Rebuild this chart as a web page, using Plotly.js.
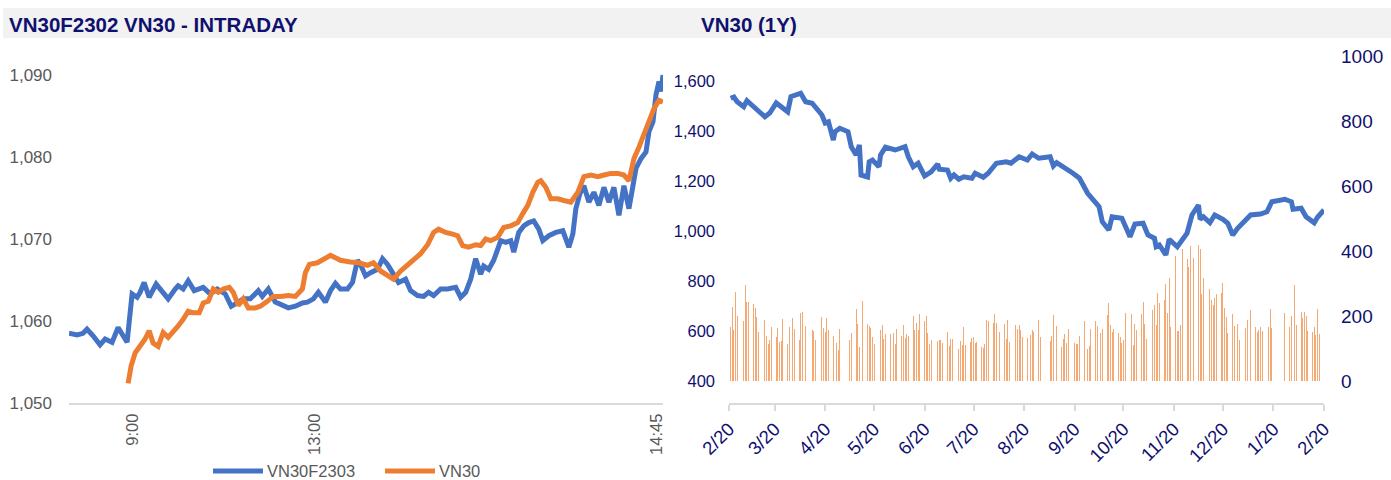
<!DOCTYPE html>
<html><head><meta charset="utf-8">
<script src="https://cdn.plot.ly/plotly-3.0.1.min.js"></script>
<style>html,body{margin:0;padding:0;background:#fff}#chart{width:1391px;height:480px}</style>
</head><body><div id="chart"></div>
<script>
// ---------- Intraday (left panel) ----------
const futName = 'VN30F2303';
const idxName = 'VN30';
const futObs = [0,8,14,18,24,31,36,43,49,54,58,60,63,68,71,75,80,87,93,99,106,109,114,119,125,134,141,148,156,162,168,174,181,189,193,199,206,213,219,226,233,238,244,249,256,261,266,271,278,283,288,291,296,301,308,313,318,323,329,336,341,348,354,359,364,371,378,386,391,396,401,406,411,414,419,424,428,431,436,441,444,449,454,459,464,469,473,479,486,493,499,503,506,510,514,519,524,529,534,539,544,549,554,559,563,566,571,576,579,583,586,589,591,593];
const futVal = [1058.5,1058.3,1058.5,1059.0,1058.2,1057.1,1057.8,1057.4,1059.2,1058.2,1057.4,1059.8,1063.3,1062.9,1063.5,1064.7,1062.9,1064.5,1063.5,1062.7,1063.9,1064.3,1063.9,1064.9,1063.7,1064.1,1063.3,1063.9,1063.3,1061.8,1062.2,1062.7,1062.7,1063.7,1063.0,1063.9,1062.3,1062.0,1061.6,1061.8,1062.2,1062.3,1062.7,1063.5,1062.3,1063.7,1064.6,1063.9,1063.9,1064.7,1067.4,1066.9,1065.5,1065.9,1066.3,1067.6,1066.9,1065.9,1064.7,1065.1,1063.7,1063.1,1063.0,1063.5,1063.1,1063.9,1063.9,1064.1,1062.9,1063.5,1065.1,1067.6,1065.7,1066.7,1066.3,1067.4,1068.6,1069.8,1069.6,1069.8,1068.4,1070.8,1071.6,1072.0,1072.2,1071.2,1069.8,1070.4,1070.8,1071.0,1069.0,1070.6,1073.7,1075.5,1076.5,1074.5,1075.7,1074.1,1076.3,1074.5,1076.3,1072.9,1076.5,1073.7,1076.5,1078.6,1079.8,1080.6,1083.1,1084.3,1087.6,1089.2,1088.0,1090.0];
const idxObs = [59,62,66,71,76,80,84,89,94,99,104,109,114,119,124,130,134,139,144,149,154,160,164,169,174,179,186,191,198,204,211,219,226,233,236,240,248,254,261,268,271,281,289,298,304,311,318,324,331,338,344,351,358,364,369,376,383,388,393,399,406,411,416,421,428,434,441,448,453,458,463,468,471,476,481,488,494,501,508,514,521,528,534,541,548,554,559,564,569,574,579,584,589,593];
const idxVal = [1052.4,1054.5,1056.1,1056.9,1057.8,1058.8,1057.3,1056.9,1058.6,1058.0,1058.6,1059.4,1060.2,1061.2,1061.0,1061.0,1062.2,1062.4,1063.9,1063.5,1063.9,1064.1,1063.5,1061.9,1062.7,1061.6,1061.6,1061.8,1062.4,1063.0,1063.0,1063.1,1063.0,1063.9,1065.9,1066.9,1067.1,1067.6,1068.0,1067.6,1067.4,1067.2,1067.1,1066.8,1067.1,1066.1,1065.5,1065.1,1066.1,1066.9,1067.4,1068.2,1069.3,1070.8,1071.2,1070.8,1070.6,1070.4,1069.2,1069.0,1069.3,1069.2,1070.0,1069.8,1070.2,1071.4,1071.6,1072.0,1073.1,1074.1,1075.7,1076.9,1077.1,1076.3,1074.9,1074.9,1074.7,1074.5,1075.7,1077.6,1077.8,1077.6,1077.8,1078.0,1078.0,1077.8,1077.1,1079.8,1081.2,1082.7,1084.3,1085.9,1086.9,1086.7];
const timeTickObs = [64,245,587];
const timeTickText = ['9:00','13:00','14:45'];
const intradayTicks = [1050,1060,1070,1080,1090];

// ---------- VN30 1Y (right panel) ----------
const vnDates = ['2022-02-21','2022-02-23','2022-02-25','2022-03-01','2022-03-03','2022-03-08','2022-03-14','2022-03-17','2022-03-21','2022-03-28','2022-03-30','2022-04-05','2022-04-08','2022-04-12','2022-04-18','2022-04-20','2022-04-22','2022-04-25','2022-04-26','2022-04-29','2022-05-04','2022-05-06','2022-05-09','2022-05-11','2022-05-12','2022-05-16','2022-05-17','2022-05-19','2022-05-23','2022-05-24','2022-05-27','2022-06-02','2022-06-08','2022-06-10','2022-06-13','2022-06-16','2022-06-20','2022-06-24','2022-06-28','2022-06-29','2022-07-04','2022-07-06','2022-07-08','2022-07-11','2022-07-14','2022-07-19','2022-07-21','2022-07-26','2022-07-29','2022-08-03','2022-08-09','2022-08-12','2022-08-17','2022-08-22','2022-08-25','2022-08-29','2022-09-05','2022-09-07','2022-09-09','2022-09-19','2022-09-23','2022-09-28','2022-10-03','2022-10-05','2022-10-07','2022-10-11','2022-10-13','2022-10-19','2022-10-24','2022-10-27','2022-11-01','2022-11-04','2022-11-08','2022-11-09','2022-11-11','2022-11-15','2022-11-17','2022-11-22','2022-11-28','2022-12-01','2022-12-05','2022-12-06','2022-12-08','2022-12-12','2022-12-15','2022-12-20','2022-12-23','2022-12-26','2022-12-29','2023-01-04','2023-01-06','2023-01-12','2023-01-16','2023-01-19','2023-01-27','2023-01-31','2023-02-01','2023-02-06','2023-02-09','2023-02-14','2023-02-16','2023-02-20'];
const vnClose = [1531,1536,1517,1497,1521,1492,1457,1472,1512,1477,1537,1551,1517,1511,1464,1432,1437,1364,1397,1411,1397,1337,1304,1344,1224,1216,1277,1284,1257,1304,1335,1324,1337,1297,1257,1271,1220,1237,1268,1247,1244,1211,1224,1207,1217,1211,1231,1215,1231,1271,1277,1271,1297,1284,1308,1291,1297,1260,1273,1231,1211,1151,1117,1097,1037,1004,1057,1051,977,1028,1031,984,971,937,944,904,967,937,991,1064,1104,1047,1057,1033,1064,1047,1031,984,1011,1051,1064,1068,1077,1117,1127,1117,1087,1091,1057,1033,1055,1084];

// trading days and volume per month
const m2202 = '2022-02', d2202 = [21,22,23,24,25,28], v2202 = [166,228,156,274,200,193];
const m2203 = '2022-03', d2203 = [1,2,3,4,7,8,9,10,11,14,15,16,17,18,21,22,23,24,25,28,29,30,31], v2203 = [185,296,244,242,238,226,197,151,172,187,138,113,125,166,135,162,121,123,192,113,166,125,195];
const m2204 = '2022-04', d2204 = [1,4,5,6,7,8,12,13,14,15,18,19,20,21,22,25,26,27,28,29], v2204 = [159,125,208,211,156,170,156,154,126,185,198,164,151,195,156,140,226,116,96,159];
const m2205 = '2022-05', d2205 = [4,5,6,9,10,11,12,13,16,17,18,19,20,23,24,25,26,27,30,31], v2205 = [118,125,149,221,174,105,185,246,174,169,162,135,113,151,156,172,128,144,146,151];
const m2206 = '2022-06', d2206 = [1,2,3,6,7,8,9,10,13,14,15,16,17,20,21,22,23,24,27,28,29,30], v2206 = [149,115,160,139,172,131,146,140,200,157,178,157,205,185,200,149,115,125,172,123,125,125];
const m2207 = '2022-07', d2207 = [1,4,5,6,7,8,11,12,13,14,15,18,19,20,21,22,25,26,27,28,29], v2207 = [117,151,108,128,130,141,98,123,111,166,111,121,131,135,118,120,105,103,113,187,185];
const m2208 = '2022-08', d2208 = [1,2,3,4,5,8,9,10,11,12,15,16,17,18,19,22,23,24,25,26,29,30,31], v2208 = [179,205,177,179,151,174,128,187,120,159,172,159,172,157,136,133,133,141,156,150,187,135,107];
const m2209 = '2022-09', d2209 = [5,6,7,8,9,12,13,14,15,16,19,20,21,22,23,26,27,28,29,30], v2209 = [123,139,203,139,169,105,128,144,118,161,183,118,113,113,140,185,105,97,108,159];
const m2210 = '2022-10', d2210 = [3,4,5,6,7,10,11,12,13,14,17,18,19,20,21,24,25,26,27,28,31], v2210 = [185,169,126,149,160,203,241,172,152,161,149,135,118,125,210,236,207,111,174,156,205];
const m2211 = '2022-11', d2211 = [1,2,3,4,7,8,9,10,11,14,15,16,17,18,21,22,23,24,25,28,29,30], v2211 = [244,176,128,265,219,233,172,272,241,248,298,210,318,166,385,154,154,172,406,375,351,415];
const m2212 = '2022-12', d2212 = [1,2,5,6,7,8,9,12,13,14,15,16,19,20,21,22,23,26,27,28,29,30], v2212 = [341,380,420,405,267,316,267,282,248,234,254,269,272,303,226,197,149,205,169,166,176,126];
const m2301 = '2023-01', d2301 = [3,4,5,6,9,10,11,12,13,16,17,18,19,27,30,31], v2301 = [162,188,166,218,166,152,156,166,154,159,166,221,162,210,166,200];
const m2302 = '2023-02', d2302 = [1,2,3,6,7,8,9,10,13,14,15,16,17,20], v2302 = [231,295,172,212,193,212,200,154,151,166,142,221,144,202];

const volMonths = [[m2202,d2202,v2202],[m2203,d2203,v2203],[m2204,d2204,v2204],[m2205,d2205,v2205],[m2206,d2206,v2206],[m2207,d2207,v2207],[m2208,d2208,v2208],[m2209,d2209,v2209],[m2210,d2210,v2210],[m2211,d2211,v2211],[m2212,d2212,v2212],[m2301,d2301,v2301],[m2302,d2302,v2302]];
const volDates = [], volVals = [];
volMonths.forEach(([m, ds, vs]) => ds.forEach((d, i) => { volDates.push(m + '-' + String(d).padStart(2,'0')); volVals.push(vs[i]); }));

// ---------- styles ----------
const W = 1391, H = 480;
const px = v => v / W, py = v => 1 - v / H;
const FONT = 'Liberation Sans, Arial, sans-serif';
const NAVY = '#10106e', GREY = '#595959', AXIS = '#d9d9d9';
const BLUE = '#4472c4', ORANGE = '#ed7d31';

const traces = [
  {x: futObs, y: futVal, name: futName, type: 'scatter', mode: 'lines', xaxis: 'x', yaxis: 'y',
   line: {color: BLUE, width: 5}},
  {x: idxObs, y: idxVal, name: idxName, type: 'scatter', mode: 'lines', xaxis: 'x', yaxis: 'y',
   line: {color: ORANGE, width: 5}},
  {x: volDates, y: volVals, type: 'bar', xaxis: 'x2', yaxis: 'y3',
   marker: {color: 'rgba(240,140,70,0.75)', line: {width: 0}}, width: 0.55 * 86400000},
  {x: vnDates, y: vnClose, type: 'scatter', mode: 'lines', xaxis: 'x2', yaxis: 'y2',
   line: {color: BLUE, width: 5}}
];

// legend drawn as line samples + labels
const legendItems = [
  {name: futName, color: BLUE, x0: 213, x1: 263},
  {name: idxName, color: ORANGE, x0: 385, x1: 435}
];
const legendY = 471;

const shapes = [
  {type: 'rect', xref: 'paper', yref: 'paper', x0: px(3), x1: 1, y0: py(38), y1: py(8),
   fillcolor: '#f2f2f2', line: {width: 0}, layer: 'below'}
];
const annotations = [
  {text: 'VN30F2302 VN30 - INTRADAY', xref: 'paper', yref: 'paper', x: px(7), y: py(24),
   xanchor: 'left', yanchor: 'middle', showarrow: false,
   font: {family: FONT, size: 20.5, color: NAVY, weight: 700}},
  {text: 'VN30 (1Y)', xref: 'paper', yref: 'paper', x: px(699), y: py(24),
   xanchor: 'left', yanchor: 'middle', showarrow: false,
   font: {family: FONT, size: 20.5, color: NAVY, weight: 700}}
];
legendItems.forEach(it => {
  shapes.push({type: 'line', xref: 'paper', yref: 'paper', x0: px(it.x0), x1: px(it.x1),
               y0: py(legendY), y1: py(legendY), line: {color: it.color, width: 5}});
  annotations.push({text: it.name, xref: 'paper', yref: 'paper', x: px(it.x1 + 2), y: py(legendY),
               xanchor: 'left', yanchor: 'middle', showarrow: false,
               font: {family: FONT, size: 16.5, color: GREY}});
});

const layout = {
  width: W, height: H,
  margin: {l: 0, r: 0, t: 0, b: 0, autoexpand: false},
  paper_bgcolor: '#fff', plot_bgcolor: 'rgba(0,0,0,0)',
  font: {family: FONT, color: GREY},
  showlegend: false,
  xaxis: {domain: [px(69), px(663)], range: [0, 593], showgrid: false, zeroline: false,
          showline: true, linecolor: AXIS, linewidth: 2, ticks: '',
          tickmode: 'array', tickvals: timeTickObs, ticktext: timeTickText, tickangle: -90,
          tickfont: {family: FONT, size: 16.5, color: GREY}, ticklabelstandoff: 2, automargin: false},
  yaxis: {domain: [py(403), py(58.6)], range: [1050, 1092], showgrid: false, zeroline: false,
          showline: false, tickmode: 'array', tickvals: intradayTicks, tickformat: ',d',
          tickfont: {family: FONT, size: 17, color: GREY}, ticklabelstandoff: 16, automargin: false},
  xaxis2: {domain: [px(729), px(1324)], type: 'date', range: ['2022-02-20', '2023-02-20'],
           showgrid: false, zeroline: false, showline: true, linecolor: AXIS, linewidth: 2,
           ticks: 'outside', ticklen: 6, tickwidth: 2, tickcolor: AXIS,
           tick0: '2022-02-20', dtick: 'M1', tickformat: '%-m/%d', tickangle: -45,
           tickfont: {family: FONT, size: 18.5, color: NAVY}, automargin: false},
  yaxis2: {domain: [py(381), py(56)], range: [400, 1700], anchor: 'x2', showgrid: false, zeroline: false,
           showline: false, tickmode: 'array', tickvals: [400,600,800,1000,1200,1400,1600], tickformat: ',d',
           tickfont: {family: FONT, size: 16.5, color: NAVY}, ticklabelstandoff: 13, automargin: false},
  yaxis3: {overlaying: 'y2', side: 'right', anchor: 'x2', range: [0, 1000], showgrid: false, zeroline: false,
           showline: false, tickmode: 'array', tickvals: [0,200,400,600,800,1000],
           tickfont: {family: FONT, size: 19, color: NAVY}, ticklabelstandoff: 16, automargin: false},
  bargap: 0,
  shapes: shapes,
  annotations: annotations
};

Plotly.newPlot('chart', traces, layout, {displayModeBar: false, staticPlot: true});
</script></body></html>
